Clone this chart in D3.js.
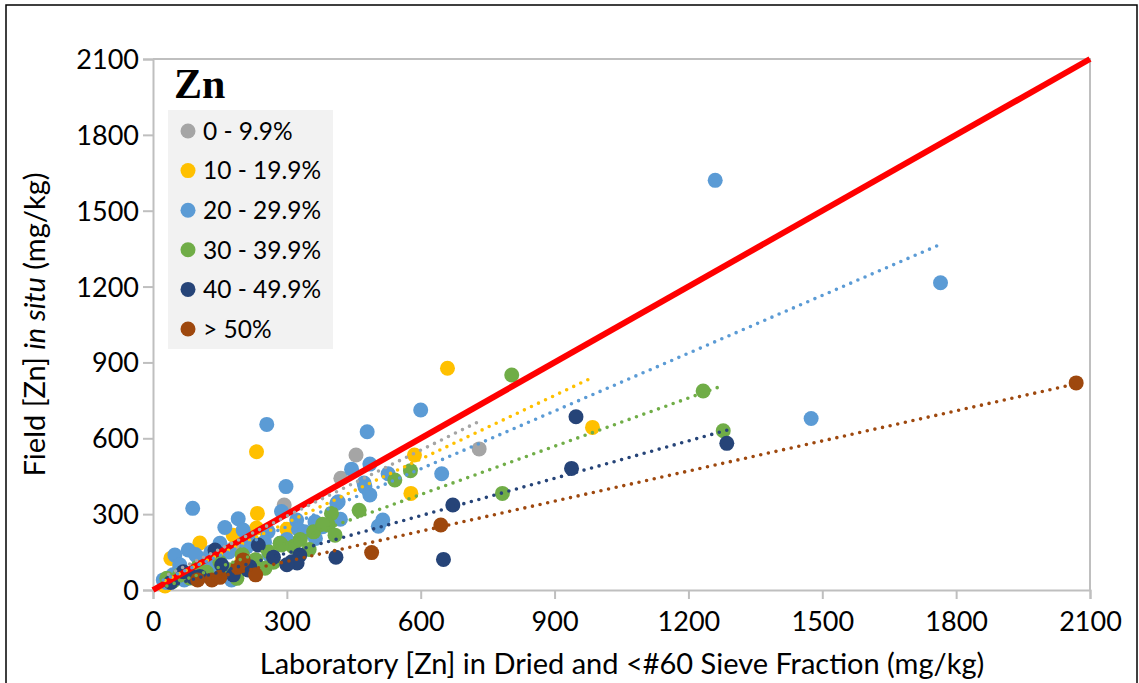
<!DOCTYPE html>
<html>
<head>
<meta charset="utf-8">
<script src="https://cdn.jsdelivr.net/npm/d3@7/dist/d3.min.js"></script>
<style>
  html, body { margin: 0; padding: 0; background: #fff; }
  svg { display: block; }
  text { font-family: Lato, "Liberation Sans", sans-serif; fill: #000; }
</style>
</head>
<body>
<svg id="chart" width="1139" height="683"></svg>
<script>
// Moisture-content classes
const classes = ["0 - 9.9%", "10 - 19.9%", "20 - 29.9%", "30 - 39.9%", "40 - 49.9%", "> 50%"];
const classColors = ["#A5A5A5", "#FFC000", "#5B9BD5", "#70AD47", "#264478", "#9E480E"];

// [laboratory, field] pairs, mg/kg
const gray = [[731,558],[455,534],[421,442],[294,336],[180,165],[120,125],[60,70],[35,45]];
const yellow = [[660,877],[985,643],[586,534],[578,382],[232,547],[234,303],[232,245],[180,217],
  [105,186],[40,125],[27,16],[255,228],[150,170],[60,90],[90,60],[200,120],[300,240]];
const blue = [[1260,1620],[1765,1215],[1475,678],[600,712],[255,655],[480,626],[445,478],[486,498],
  [647,460],[527,460],[475,408],[473,423],[486,376],[415,349],[515,277],[505,252],[363,270],[364,204],
  [298,409],[288,310],[322,277],[326,240],[89,323],[161,247],[191,282],[202,237],[49,138],[79,158],
  [150,185],[124,119],[176,40],[23,40],[285,185],[258,231],[412,343],[60,100],[100,130],[130,150],
  [220,200],[250,190],[340,230],[380,250],[30,30],[70,40],[120,60],[260,140],[110,90],[210,170],
  [300,200],[45,60],[95,140],[140,100],[420,280],[170,150]];
const green = [[804,850],[1233,787],[1278,630],[783,382],[577,472],[542,435],[462,315],[400,303],
  [393,257],[408,217],[285,185],[314,171],[251,86],[288,178],[31,46],[83,47],[188,46],[360,230],
  [330,200],[200,140],[150,110],[100,90],[230,120],[260,150],[120,70],[60,60],[380,260],[170,80],
  [215,105],[45,35],[270,110],[350,160]];
const navy = [[948,685],[938,481],[1286,580],[672,336],[651,121],[410,130],[329,138],[311,112],
  [323,107],[236,178],[217,92],[213,79],[154,99],[139,158],[105,53],[68,72],[40,30],[90,50],
  [180,60],[270,130],[300,100]];
const brown = [[2069,819],[645,257],[490,148],[202,119],[132,40],[150,50],[190,90],[100,40],[230,60]];
const seriesData = [gray, yellow, blue, green, navy, brown];

// Linear trendlines per class: slope, intercept, x-range
const trendSlope = [0.87, 0.838, 0.762, 0.636, 0.493, 0.397];
const trendIntercept = [31, 15, 22, -4, -2, -6];
const trendFrom = [35, 27, 23, 31, 40, 100];
const trendTo = [731, 985, 1765, 1278, 1286, 2069];

// 1:1 reference line
const oneToOne = [[0, 0], [2100, 2100]];

const ticks = [0, 300, 600, 900, 1200, 1500, 1800, 2100];

const svg = d3.select("#chart");
const pLeft = 153, pRight = 1090, pTop = 59, pBottom = 590;

const x = d3.scaleLinear().domain([0, 2100]).range([pLeft, pRight]);
const y = d3.scaleLinear().domain([0, 2100]).range([pBottom, pTop]);

// outer chart border
svg.append("rect").attr("x", 6).attr("y", 5).attr("width", 1131).attr("height", 690)
  .attr("fill", "#fff").attr("stroke", "#000").attr("stroke-width", 1.5);

// plot frame (top / right)
svg.append("path")
  .attr("d", `M${pLeft},${pTop}H${pRight}V${pBottom}`)
  .attr("fill", "none").attr("stroke", "#BFBFBF").attr("stroke-width", 2);

const axisColor = "#BFBFBF";
const xAxis = svg.append("g").attr("transform", `translate(0,${pBottom})`)
  .call(d3.axisBottom(x).tickValues(ticks).tickSize(9).tickPadding(13).tickFormat(d3.format("d")));
const yAxis = svg.append("g").attr("transform", `translate(${pLeft},0)`)
  .call(d3.axisLeft(y).tickValues(ticks).tickSize(10).tickPadding(4).tickFormat(d3.format("d")));
[xAxis, yAxis].forEach(g => {
  g.select(".domain").attr("stroke", axisColor).attr("stroke-width", 2);
  g.selectAll(".tick line").attr("stroke", axisColor).attr("stroke-width", 2);
  g.selectAll(".tick text").attr("font-size", 27).attr("fill", "#000")
    .style("font-family", "Lato, 'Liberation Sans', sans-serif");
});
yAxis.selectAll(".tick text").attr("dy", "0.35em");

// axis titles
svg.append("text").attr("x", 622).attr("y", 674).attr("text-anchor", "middle")
  .attr("font-size", 29).text("Laboratory [Zn] in Dried and <#60 Sieve Fraction (mg/kg)");
const yt = svg.append("text").attr("transform", `translate(45,${(pTop + pBottom) / 2}) rotate(-90)`)
  .attr("text-anchor", "middle").attr("font-size", 29);
yt.append("tspan").text("Field [Zn] ");
yt.append("tspan").attr("font-style", "italic").text("in situ");
yt.append("tspan").text(" (mg/kg)");

// scatter points, one group per class
const plot = svg.append("g");
seriesData.forEach((pts, i) => {
  plot.append("g").selectAll("circle").data(pts).join("circle")
    .attr("cx", d => x(d[0])).attr("cy", d => y(d[1])).attr("r", 7.5)
    .attr("fill", classColors[i]);
});

// 1:1 line
svg.append("line")
  .attr("x1", x(oneToOne[0][0])).attr("y1", y(oneToOne[0][1]))
  .attr("x2", x(oneToOne[1][0])).attr("y2", y(oneToOne[1][1]))
  .attr("stroke", "#FF0000").attr("stroke-width", 6);

// dotted trendlines
classes.forEach((c, i) => {
  const x0 = trendFrom[i], x1 = trendTo[i];
  svg.append("line")
    .attr("x1", x(x0)).attr("y1", y(trendSlope[i] * x0 + trendIntercept[i]))
    .attr("x2", x(x1)).attr("y2", y(trendSlope[i] * x1 + trendIntercept[i]))
    .attr("stroke", classColors[i]).attr("stroke-width", 3.6)
    .attr("stroke-linecap", "round").attr("stroke-dasharray", "0 7.8");
});

// legend
svg.append("text").attr("x", 174).attr("y", 98)
  .style("font-family", "'Liberation Serif', 'DejaVu Serif', serif")
  .attr("font-weight", "bold").attr("font-size", 42).text("Zn");
svg.append("rect").attr("x", 168).attr("y", 110).attr("width", 165).attr("height", 239)
  .attr("fill", "#F2F2F2");
const leg = svg.append("g").selectAll("g").data(classes).join("g")
  .attr("transform", (d, i) => `translate(188,${131 + i * 39.6})`);
leg.append("circle").attr("r", 7.5).attr("fill", (d, i) => classColors[i]);
leg.append("text").attr("x", 15).attr("dy", "0.36em").attr("font-size", 24.5).text(d => d);
</script>
</body>
</html>
